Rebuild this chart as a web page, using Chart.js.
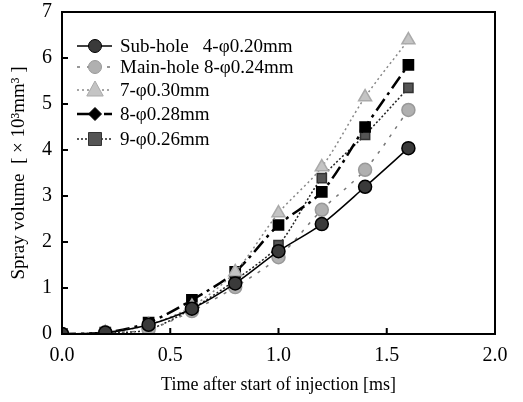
<!DOCTYPE html>
<html>
<head>
<meta charset="utf-8">
<script src="https://cdn.jsdelivr.net/npm/chart.js@4"></script>
<style>
  html, body { margin: 0; padding: 0; background: #fff; }
  #wrap { width: 523px; height: 402px; }
</style>
</head>
<body>
<div id="wrap"><canvas id="myChart"></canvas></div>
<script>
const times = [0.0, 0.2, 0.4, 0.6, 0.8, 1.0, 1.2, 1.4, 1.6];
const subHole020 = [0.00, 0.03, 0.20, 0.55, 1.10, 1.80, 2.39, 3.20, 4.04];
const mainHole024 = [0.00, 0.03, 0.10, 0.50, 1.02, 1.67, 2.70, 3.57, 4.87];
const hole7d030 = [0.00, 0.03, 0.20, 0.60, 1.35, 2.63, 3.63, 5.15, 6.39];
const hole8d028 = [0.00, 0.03, 0.25, 0.74, 1.35, 2.37, 3.09, 4.50, 5.85];
const hole9d026 = [0.00, 0.02, 0.10, 0.55, 1.17, 1.93, 3.39, 4.33, 5.35];
const labels = [
    "Sub-hole   4-\u03C60.20mm",
    "Main-hole 8-\u03C60.24mm",
    "7-\u03C60.30mm",
    "8-\u03C60.28mm",
    "9-\u03C60.26mm"
];
const yTicks = [0, 1, 2, 3, 4, 5, 6, 7];
const xTicks = [0.0, 0.5, 1.0, 1.5, 2.0];

const serif = "'Liberation Serif', 'Times New Roman', serif";

const toXY = arr => arr.map((v, i) => ({ x: times[i], y: v }));

const ctx = document.getElementById("myChart");

// frame + inward ticks + legend drawn inside plot
const framePlugin = {
    id: "frame",
    afterDraw(chart) {
        const c = chart.ctx;
        const a = chart.chartArea;
        const xs = chart.scales.x;
        const ys = chart.scales.y;
        c.save();
        c.strokeStyle = "#000";
        c.lineWidth = 2;
        c.strokeRect(a.left, a.top, a.right - a.left, a.bottom - a.top);
        c.beginPath();
        xTicks.forEach(t => {
            const px = xs.getPixelForValue(t);
            c.moveTo(px, a.bottom);
            c.lineTo(px, a.bottom - 6);
        });
        yTicks.forEach(t => {
            const py = ys.getPixelForValue(t);
            c.moveTo(a.left, py);
            c.lineTo(a.left + 6, py);
        });
        c.stroke();

        // legend
        const rows = [46, 67, 90, 114, 139];
        chart.data.datasets.forEach((ds, i) => {
            const y = rows[i];
            c.strokeStyle = ds.borderColor;
            c.lineWidth = ds.borderWidth;
            c.setLineDash(ds.borderDash || []);
            c.beginPath();
            c.moveTo(77, y);
            c.lineTo(112, y);
            c.stroke();
            c.setLineDash([]);
            drawMarker(c, ds.legendStyle || ds.pointStyle, 95, y, ds.pointRadius, ds.pointBackgroundColor, ds.pointBorderColor);
            c.fillStyle = "#000";
            c.font = "19px " + serif;
            c.textBaseline = "middle";
            c.fillText(labels[i], 120, y + 1);
        });
        c.restore();
    }
};

function drawMarker(c, style, x, y, r, fill, stroke) {
    c.fillStyle = fill;
    c.strokeStyle = stroke;
    c.lineWidth = 1;
    c.beginPath();
    if (style === "circle") {
        c.arc(x, y, r, 0, Math.PI * 2);
    } else if (style === "triangle") {
        c.moveTo(x, y - r * 1.2);
        c.lineTo(x + r * 1.1, y + r * 0.8);
        c.lineTo(x - r * 1.1, y + r * 0.8);
        c.closePath();
    } else if (style === "rectRot") {
        c.moveTo(x, y - r);
        c.lineTo(x + r, y);
        c.lineTo(x, y + r);
        c.lineTo(x - r, y);
        c.closePath();
    } else {
        c.rect(x - r, y - r, 2 * r, 2 * r);
    }
    c.fill();
    c.stroke();
}

const myChart = new Chart(ctx, {
    type: "line",
    data: {
        datasets: [
            {
                label: labels[0],
                data: toXY(subHole020),
                borderColor: "#000",
                borderWidth: 1.5,
                pointStyle: "circle",
                pointRadius: 6.5,
                pointBackgroundColor: "#3a3a3a",
                pointBorderColor: "#000",
                tension: 0.3
            },
            {
                label: labels[1],
                data: toXY(mainHole024),
                borderColor: "#777",
                borderWidth: 1.5,
                borderDash: [3, 7],
                pointStyle: "circle",
                pointRadius: 6.5,
                pointBackgroundColor: "#b0b0b0",
                pointBorderColor: "#999",
                tension: 0.3
            },
            {
                label: labels[2],
                data: toXY(hole7d030),
                borderColor: "#888",
                borderWidth: 1.5,
                borderDash: [2, 3],
                pointStyle: "triangle",
                pointRadius: 7.5,
                pointBackgroundColor: "#c4c4c4",
                pointBorderColor: "#aaa",
                tension: 0.3
            },
            {
                label: labels[3],
                data: toXY(hole8d028),
                borderColor: "#000",
                borderWidth: 2.5,
                borderDash: [14, 5, 3, 5],
                pointStyle: "rect",
                legendStyle: "rectRot",
                pointRadius: 6.5,
                pointBackgroundColor: "#000",
                pointBorderColor: "#000",
                tension: 0.3
            },
            {
                label: labels[4],
                data: toXY(hole9d026),
                borderColor: "#222",
                borderWidth: 1.5,
                borderDash: [2, 2],
                pointStyle: "rect",
                pointRadius: 6.5,
                pointBackgroundColor: "#555",
                pointBorderColor: "#333",
                tension: 0.3
            }
        ]
    },
    options: {
        animation: false,
        responsive: true,
        maintainAspectRatio: false,
        layout: {
            padding: { left: 0, right: 28, top: 12, bottom: 6 }
        },
        plugins: {
            legend: { display: false },
            tooltip: { enabled: false }
        },
        scales: {
            x: {
                type: "linear",
                min: 0,
                max: 2,
                afterBuildTicks: s => { s.ticks = xTicks.map(v => ({ value: v })); },
                afterFit: s => { s.height = 62; s.paddingLeft = 0; s.paddingRight = 0; },
                grid: { display: false, drawTicks: false },
                border: { display: true, color: "#000", width: 2 },
                ticks: {
                    color: "#000",
                    padding: 10,
                    font: { size: 20, family: serif },
                    callback: v => v.toFixed(1)
                },
                title: {
                    display: true,
                    text: "Time after start of injection [ms]",
                    color: "#000",
                    font: { size: 18, family: serif },
                    padding: { top: 0, bottom: 0 }
                }
            },
            y: {
                min: 0,
                max: 7,
                afterBuildTicks: s => { s.ticks = yTicks.map(v => ({ value: v })); },
                afterFit: s => { s.width = 62; s.paddingTop = 0; s.paddingBottom = 0; },
                grid: { display: false, drawTicks: false },
                border: { display: true, color: "#000", width: 2 },
                ticks: {
                    color: "#000",
                    padding: 10,
                    font: { size: 20, family: serif }
                },
                title: {
                    display: true,
                    text: "Spray volume  [ \u00D7 10\u00B3mm\u00B3 ]",
                    color: "#000",
                    font: { size: 19, family: serif },
                    padding: { top: 8, bottom: 4 }
                }
            }
        }
    },
    plugins: [framePlugin]
});
</script>
</body>
</html>
